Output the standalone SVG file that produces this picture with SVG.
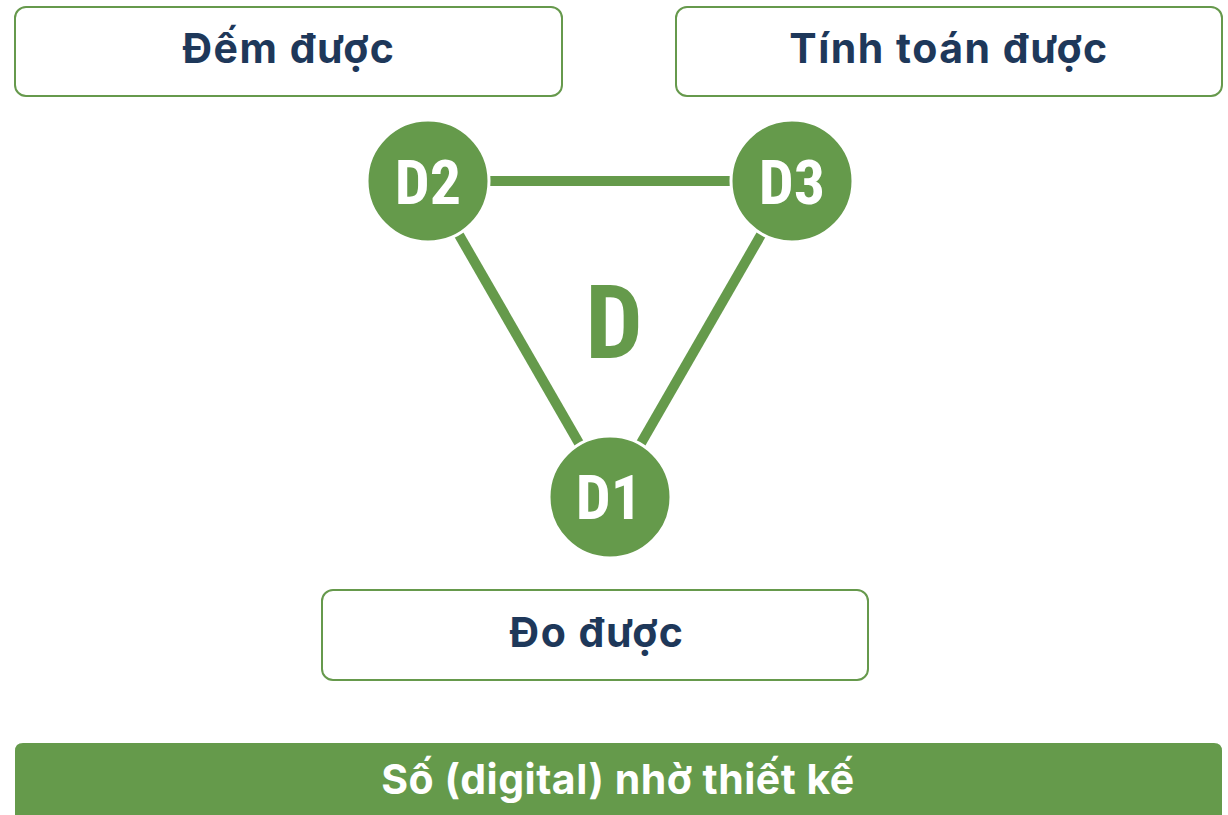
<svg xmlns="http://www.w3.org/2000/svg" width="1228" height="815" viewBox="0 0 1228 815">
<style>
.box{fill:#ffffff;stroke:#66994c;stroke-width:2}
.lbl{font-family:Inter,"Open Sans","Liberation Sans",sans-serif;font-weight:700;font-size:41px;letter-spacing:1.5px;fill:#1e385a;text-anchor:middle}
.node{fill:#659a4b;stroke:#ffffff;stroke-width:3}
.ntxt{font-family:"Roboto Condensed","Liberation Sans Narrow","DejaVu Sans Condensed",Roboto,sans-serif;font-stretch:condensed;font-weight:700;font-size:62px;fill:#ffffff;text-anchor:middle}
.edge{stroke:#659a4b;stroke-width:10;fill:none}
</style>
<rect width="1228" height="815" fill="#ffffff"/>
<g id="box-dem">
<rect class="box" x="15" y="7" width="547" height="89" rx="11"/>
<text class="lbl" x="289" y="63">Đếm được</text>
</g>
<g id="box-tinh">
<rect class="box" x="676" y="7" width="546" height="89" rx="11"/>
<text class="lbl" x="949" y="63">Tính toán được</text>
</g>
<g id="box-do">
<rect class="box" x="322" y="590" width="546" height="90" rx="11"/>
<text class="lbl" x="597" y="647">Đo được</text>
</g>
<g id="connectors">
<line class="edge" x1="428" y1="181" x2="792" y2="181"/>
<line class="edge" x1="428" y1="181" x2="610" y2="497"/>
<line class="edge" x1="792" y1="181" x2="610" y2="497"/>
</g>
<g id="center-d">
<text class="ntxt" x="614" y="358" style="font-size:102px;fill:#659a4b">D</text>
</g>
<g id="node-d2">
<circle class="node" cx="428" cy="181" r="61"/>
<text class="ntxt" x="428" y="204">D2</text>
</g>
<g id="node-d3">
<circle class="node" cx="792" cy="181" r="61"/>
<text class="ntxt" x="792" y="204">D3</text>
</g>
<g id="node-d1">
<circle class="node" cx="610" cy="497" r="61"/>
<text class="ntxt" x="609" y="519">D1</text>
</g>
<g id="footer">
<path d="M15 815 V751 Q15 743 23 743 H1214 Q1222 743 1222 751 V815 Z" fill="#659a4b"/>
<text class="lbl" x="618" y="794" style="fill:#ffffff;letter-spacing:0.5px">Số (digital) nhờ thiết kế</text>
</g>
</svg>
